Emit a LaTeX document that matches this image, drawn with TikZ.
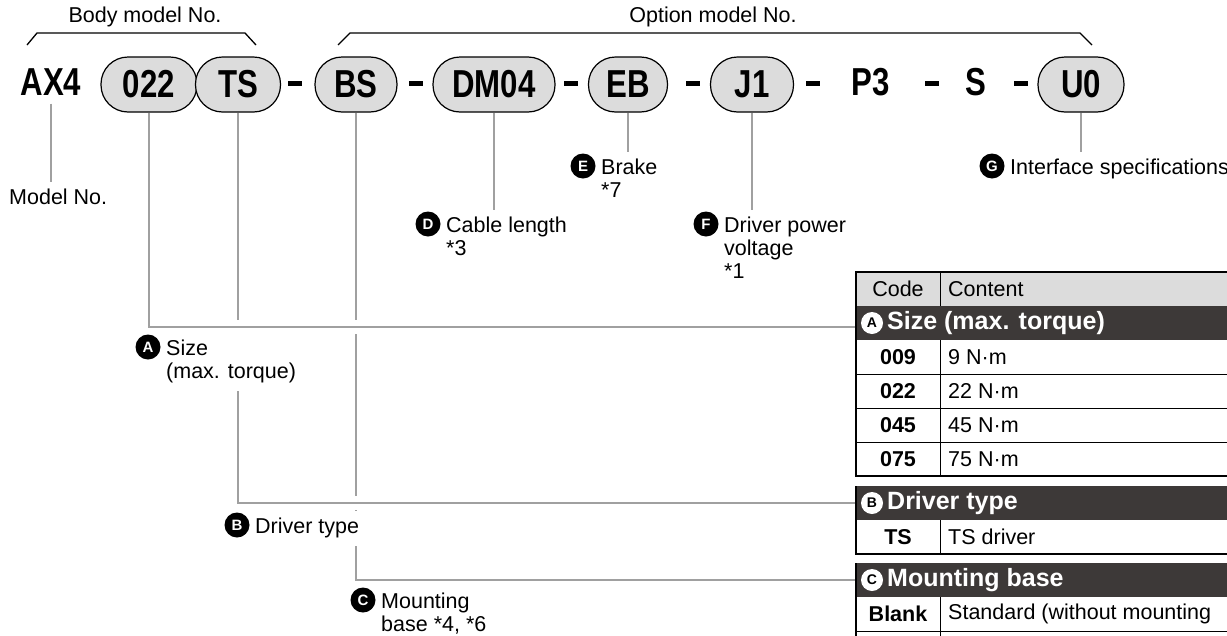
\documentclass[tikz,border=0pt]{standalone}
\usepackage{fontspec}
\setmainfont{Liberation Sans}
\newfontfamily\codefont[FakeStretch=0.8]{Liberation Sans}
\usetikzlibrary{positioning,backgrounds}

\definecolor{pillgray}{HTML}{DCDCDC}
\definecolor{leadgray}{HTML}{A0A0A0}
\definecolor{headdark}{HTML}{3D3938}

\newcommand\lblrows[1]{\begin{tabular}[t]{@{}l@{}}#1\end{tabular}}

\tikzset{
    pill/.style={draw, line width=1.2pt, fill=pillgray, rounded corners=27pt,
        minimum height=55pt, inner sep=0pt, font=\codefont\bfseries\fontsize{39}{39}\selectfont},
    code/.style={inner sep=8pt, font=\codefont\bfseries\fontsize{39}{39}\selectfont},
    dashbar/.style={fill=black, minimum width=14pt, minimum height=5pt, inner sep=0pt},
    bracket/.style={line width=1.3pt},
    lead/.style={draw=leadgray, line width=2pt},
    halo/.style={preaction={draw=white, line width=14pt}},
    badge/.style={circle, fill=black, text=white, minimum size=25pt, inner sep=0pt,
        font=\bfseries\fontsize{15}{15}\selectfont},
    lbl/.style={anchor=base west, fill=white, inner xsep=1pt, inner ysep=6pt},
    head/.style={fill=headdark, minimum width=384pt, minimum height=34pt, inner sep=0pt},
    hbadge/.style={circle, fill=white, text=black, minimum size=22pt, inner sep=0pt,
        font=\bfseries\fontsize{14}{14}\selectfont},
    headtxt/.style={anchor=west, text=white, inner sep=0pt, font=\bfseries\fontsize{25}{25}\selectfont},
    cell/.style={anchor=west, inner sep=0pt},
    cellcode/.style={inner sep=0pt, font=\bfseries\fontsize{21.5}{23}\selectfont},
    tline/.style={line width=1pt},
    tborder/.style={line width=2pt},
}

\begin{document}
\begin{tikzpicture}[x=1pt, y=-1pt, font=\fontsize{21.5}{23}\selectfont]
    \useasboundingbox (0,0) rectangle (1227,635);
    \clip (0,0) rectangle (1227,635);

    % titles and brackets
    \node (bodyttl) at (145,17) {Body model No.};
    \node (optttl) at (713,17) {Option model No.};
    \draw[bracket] (27,45) -- (37,33) -- (245,33) -- (256,45);
    \draw[bracket] (338,45) -- (350,33) -- (1080,33) -- (1092,45);

    % model number
    \node[code] (ax4) at (51,82) {AX4};
    \node[pill, minimum width=96pt] (p022) at (149,84.5) {022};
    \node[pill, minimum width=85pt] (pts) at (238,84.5) {TS};
    \node[dashbar] (d1) at (295,83) {};
    \node[pill, minimum width=82pt] (pbs) at (356,84.5) {BS};
    \node[dashbar] (d2) at (415.5,83) {};
    \node[pill, minimum width=122pt] (pdm) at (494,84.5) {DM04};
    \node[dashbar] (d3) at (570.5,83) {};
    \node[pill, minimum width=79pt] (peb) at (628,84.5) {EB};
    \node[dashbar] (d4) at (692.5,83) {};
    \node[pill, minimum width=83pt] (pj1) at (752,84.5) {J1};
    \node[dashbar] (d5) at (812.5,83) {};
    \node[code] (p3) at (871,82) {P3};
    \node[dashbar] (d6) at (931.5,83) {};
    \node[code] (s) at (976,82) {S};
    \node[dashbar] (d7) at (1020.5,83) {};
    \node[pill, minimum width=86pt] (pu0) at (1081,84.5) {U0};

    % callouts
    \node[lbl] (mlbl) at (8,204) {\lblrows{Model No.}};
    \node[badge] (ba) at (148,347) {A};
    \node[lbl] (albl) at (165,355) {\lblrows{Size\\(max. torque)}};
    \node[badge] (bb) at (237,525) {B};
    \node[lbl] (blbl) at (254,533) {\lblrows{Driver type}};
    \node[badge] (bc) at (363,600) {C};
    \node[lbl] (clbl) at (380,608) {\lblrows{Mounting\\base {*}4, {*}6}};
    \node[badge] (bd) at (428,224) {D};
    \node[lbl] (dlbl) at (445,232) {\lblrows{Cable length\\{*}3}};
    \node[badge] (be) at (583,166) {E};
    \node[lbl] (elbl) at (600,174) {\lblrows{Brake\\{*}7}};
    \node[badge] (bf) at (706,224) {F};
    \node[lbl] (flbl) at (723,232) {\lblrows{Driver power\\voltage\\{*}1}};
    \node[badge] (bg) at (992,166) {G};
    \node[lbl] (glbl) at (1009,174) {\lblrows{Interface specifications}};

    % table A
    \fill[pillgray] (856,272) rectangle (1240,306);
    \node[cell, anchor=center] (hcode) at (898,289) {Code};
    \node[cell] (hcont) at (948,289) {Content};
    \node[head] (ahead) at (1048,323) {};
    \node[hbadge] (hba) at (872,323) {A};
    \node[headtxt] (hat) at (887,323) {Size (max. torque)};
    \foreach \c/\t [count=\i from 0] in {009/9 N·m, 022/22 N·m, 045/45 N·m, 075/75 N·m} {
        \node[cellcode] at (898,357+34*\i) {\c};
        \node[cell] at (948,357+34*\i) {\t};
    }
    \draw[tline] (856,374) -- (1240,374) (856,408) -- (1240,408) (856,442) -- (1240,442);
    \draw[tline] (940,272) -- (940,306) (940,340) -- (940,476);
    \draw[tborder] (1240,272) -- (856,272) -- (856,476) -- (1240,476);

    % table B
    \node[head] (bhead) at (1048,503) {};
    \node[hbadge] (hbb) at (872,503) {B};
    \node[headtxt] (hbt) at (887,503) {Driver type};
    \node[cellcode] (tscode) at (898,537) {TS};
    \node[cell] (tstxt) at (948,537) {TS driver};
    \draw[tline] (940,520) -- (940,554);
    \draw[tborder] (856,486) -- (856,554) -- (1240,554);

    % table C
    \node[head] (chead) at (1048,580) {};
    \node[hbadge] (hbc) at (872,580) {C};
    \node[headtxt] (hct) at (887,580) {Mounting base};
    \node[cellcode] (blcode) at (898,614) {Blank};
    \node[cell] (bltxt) at (948,614) {Standard (without mounting};
    \draw[tline] (940,597) -- (940,640) (856,631) -- (1240,631);
    \draw[tborder] (856,563) -- (856,640);

    % leader lines
    \begin{scope}[on background layer]
        \draw[lead] (ax4.south) -- (ax4.south |- mlbl.north);
        \draw[lead] (pdm.south) -- (pdm.south |- dlbl.north);
        \draw[lead] (peb.south) -- (peb.south |- elbl.north);
        \draw[lead] (pj1.south) -- (pj1.south |- flbl.north);
        \draw[lead] (pu0.south) -- (pu0.south |- glbl.north);
        \draw[lead] (pbs.south) |- (chead.west);
        \draw[lead, halo] (pts.south) |- (bhead.west);
        \draw[lead, halo] (p022.south) |- ([yshift=-4pt]ahead.west);
    \end{scope}
\end{tikzpicture}
\end{document}
